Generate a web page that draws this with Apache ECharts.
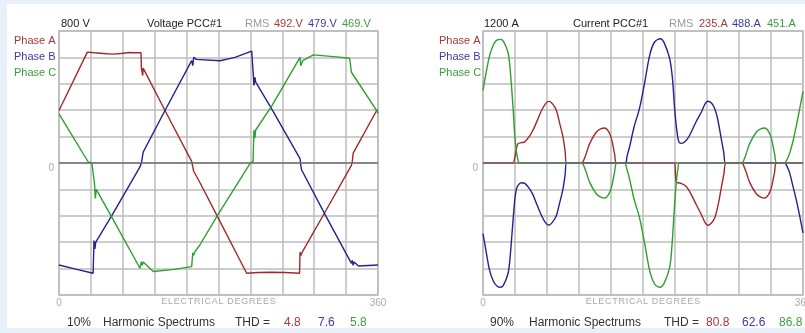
<!DOCTYPE html>
<html><head><meta charset="utf-8">
<script src="https://cdn.jsdelivr.net/npm/echarts@6/dist/echarts.min.js"></script>
<style>
html,body{margin:0;padding:0;background:#e8f0f9;}
#wrap{position:relative;width:805px;height:333px;background:#e8f0f9;overflow:hidden}
#panel{position:absolute;left:7px;top:4px;width:798px;height:324px;background:#fff}
#chart{position:absolute;left:0;top:0;width:805px;height:333px}
</style></head><body>
<div id="wrap"><div id="panel"></div><div id="chart"></div></div>
<script>
// ---------- data (degrees, value) ----------
const phases = ['Phase A', 'Phase B', 'Phase C'];
const xTickLabels = ['0', '360'];
const yTickLabels = ['0'];

const voltA = [[0,318],[32,672],[40,668],[50,664],[60,660],[70,664],[80,670],[82,676],[83,668],[92.5,668],[93,575],[94,545],[94.5,530],[95,575],[119.6,318],[149.7,10],[151,5],[152,-50],[159,-118],[178,-316],[211.8,-668],[225,-664],[240,-662],[255,-664],[271.5,-668],[272,-540],[273,-560],[274,-545],[300,-300],[330,-14],[331,10],[332,60],[358.5,318],[360,322]];
const voltB = [[0,-618],[20,-645],[38.5,-668],[39.5,-470],[40.5,-520],[41.5,-480],[59.4,-320],[91.4,-24],[93,0],[95,66],[119.6,318],[149.7,620],[151,590],[152,640],[155,628],[181.7,620],[198.6,640],[217.5,678],[219.5,685],[220,470],[221,520],[222,490],[240,328],[272,26],[273,-20],[274,-44],[300,-310],[330,-608],[331,-590],[332,-620],[333,-600],[338,-624],[360,-618]];
const voltC = [[0,298],[33,6],[37,0],[38,10],[39,-10],[40,-120],[41,-215],[42,-160],[43,-170],[59.4,-326],[91.4,-638],[93,-598],[94,-620],[95,-600],[106.4,-658],[130,-645],[149.7,-628],[151,-545],[152,-560],[153,-540],[159,-497],[178,-325],[215.5,-4],[217,0],[219,10],[220,200],[221,150],[222,200],[240,345],[272,640],[272.8,590],[273.5,600],[275,620],[287,655],[310,645],[328,635],[329.5,640],[330,550],[331,540],[332,555],[358.5,318],[360,298]];

const currA = [[0,0],[33.7,0],[35.5,40],[37.5,130],[39.4,176],[43,185],[47,192],[52,240],[56,295],[61,385],[65.7,475],[70,535],[74,560],[78,540],[82.5,480],[86,370],[90,236],[92.5,100],[94,0],[110.7,0],[115,60],[120,176],[127.6,282],[133,312],[137,318],[141,290],[144.5,222],[148,85],[150.5,0],[215.6,0],[216.5,-100],[217.5,-173],[219.4,-180],[223,-185],[228,-210],[232.5,-260],[240,-380],[245.7,-470],[250,-545],[253,-566],[257,-545],[260.7,-500],[264,-400],[268,-230],[271,-100],[273.8,0],[290.7,0],[295,-60],[300,-176],[307.6,-282],[313,-312],[317,-318],[321,-290],[324.5,-222],[328,-85],[330.5,0],[360,0]];
const currB = [[0,-642],[3,-780],[7.5,-979],[12,-1080],[16,-1120],[19.6,-1130],[23,-1110],[28,-1009],[30,-900],[32,-706],[34,-500],[35.7,-339],[37.5,-240],[39.4,-203],[43,-180],[47,-185],[52,-230],[56,-285],[61,-385],[65.7,-475],[70,-540],[74,-566],[78,-540],[82.5,-480],[86,-370],[90,-236],[92.5,-100],[94,0],[160,0],[162,60],[165,150],[170,330],[176,494],[182,736],[187.5,979],[193,1100],[199.6,1130],[204,1090],[210,949],[213,780],[215.6,494],[217.5,330],[219.4,222],[221,185],[223,178],[228,200],[232.5,252],[240,380],[245.7,464],[250,540],[253,561],[257,545],[260.7,494],[264,400],[268,222],[271,90],[273,0],[339,0],[342,-30],[345,-90],[348.8,-215],[352,-320],[356,-470],[360,-635]];
const currC = [[0,661],[3,800],[7.5,979],[12,1080],[16,1120],[19.6,1124],[23,1105],[28,1009],[30,900],[32,706],[34,480],[35.7,252],[37.5,110],[39.4,25],[41,0],[110.7,0],[115,-60],[120,-176],[127.6,-282],[133,-312],[137,-318],[141,-290],[144.5,-222],[148,-85],[150.5,0],[159,0],[162,-60],[165,-150],[170,-330],[176,-494],[182,-736],[187.5,-979],[193,-1100],[199,-1130],[204,-1090],[210,-949],[212.5,-760],[215,-450],[217.5,-175],[219.4,-45],[221,0],[290.7,0],[295,60],[300,176],[307.6,282],[313,312],[317,318],[321,290],[324.5,222],[328,85],[330.5,0],[339,0],[342,30],[345,90],[348.8,200],[352,320],[356,480],[360,650]];

// ---------- styling ----------
const FONT = '"Liberation Sans", Arial, sans-serif';
const lineColors = ['#a02a2a', '#23238f', '#2f9f2f'];
const textColors = ['#a83838', '#3a3aa0', '#3c9f3c'];
const gridColor = '#bcbcbc';

function xAxis(gi) {
  return {
    type: 'value', gridIndex: gi, min: 0, max: 360, interval: 36,
    axisLine: { show: false }, axisTick: { show: false },
    splitLine: { show: true, lineStyle: { color: gridColor, width: 1.5 } },
    axisLabel: { color: '#aaaaaa', fontSize: 10, fontFamily: FONT, margin: 3,
      formatter: v => (v === 0 ? xTickLabels[0] : (v === 360 ? xTickLabels[1] : '')) },
    name: 'E\u200AL\u200AE\u200AC\u200AT\u200AR\u200AI\u200AC\u200AA\u200AL\u2009\u2009D\u200AE\u200AG\u200AR\u200AE\u200AE\u200AS',
    nameLocation: 'middle', nameGap: 2, nameMoveOverlap: false,
    nameTextStyle: { color: '#a8a8a8', fontSize: 9, fontFamily: FONT, verticalAlign: 'top' }
  };
}
function yAxis(gi, lim) {
  return {
    type: 'value', gridIndex: gi, min: -lim, max: lim, interval: lim / 5,
    axisLine: { show: false }, axisTick: { show: false },
    splitLine: { show: true, lineStyle: { color: gridColor, width: 1.5 } },
    axisLabel: { color: '#aaaaaa', fontSize: 10, fontFamily: FONT, margin: 5, verticalAlign: 'top',
      formatter: v => (v === 0 ? yTickLabels[0] : '') }
  };
}
function zeroSeries(gi) {
  return { type: 'line', name: 'zero' + gi, xAxisIndex: gi, yAxisIndex: gi, data: [], z: 1,
    markLine: { silent: true, symbol: 'none', label: { show: false }, animation: false,
      lineStyle: { color: '#707070', width: 1.5, type: 'solid' }, data: [{ yAxis: 0 }] } };
}
function phaseSeries(gi, idx, data, smooth) {
  return { type: 'line', name: phases[idx], xAxisIndex: gi, yAxisIndex: gi, data: data,
    showSymbol: false, symbol: 'none', smooth: smooth, z: 3,
    lineStyle: { color: lineColors[idx], width: 1.4 }, itemStyle: { color: lineColors[idx] } };
}
function legend(left) {
  return { left: left, top: 34, orient: 'vertical', padding: 0, icon: 'none',
    itemWidth: 0, itemHeight: 14, itemGap: 3.6, selectedMode: false,
    textStyle: { fontSize: 11, fontFamily: FONT },
    data: phases.map((p, i) => ({ name: p, textStyle: { color: textColors[i] } })) };
}
function txt(x, y, s, color, size) {
  return { type: 'text', x: x, y: y, silent: true,
    style: { text: s, fill: color, font: (size || 11) + 'px ' + FONT, align: 'left', verticalAlign: 'middle' } };
}

const option = {
  animation: false,
  textStyle: { fontFamily: FONT },
  grid: [
    { left: 59, top: 31, width: 319, height: 264, show: true, borderColor: gridColor, borderWidth: 1.5, outerBoundsMode: 'none', containLabel: false },
    { left: 483, top: 31, width: 320, height: 264, show: true, borderColor: gridColor, borderWidth: 1.5, outerBoundsMode: 'none', containLabel: false }
  ],
  xAxis: [xAxis(0), xAxis(1)],
  yAxis: [yAxis(0, 800), yAxis(1, 1200)],
  legend: [legend(9), legend(434)],
  series: [
    zeroSeries(0),
    phaseSeries(0, 0, voltA, false), phaseSeries(0, 1, voltB, false), phaseSeries(0, 2, voltC, false),
    zeroSeries(1),
    phaseSeries(1, 0, currA, 0.3), phaseSeries(1, 1, currB, 0.3), phaseSeries(1, 2, currC, 0.3)
  ],
  graphic: [
    txt(61, 23.5, '800 V', '#222'),
    txt(147, 23.5, 'Voltage PCC#1', '#222'),
    txt(245, 23.5, 'RMS', '#9a9a9a'),
    txt(274, 23.5, '492.V', textColors[0]),
    txt(308, 23.5, '479.V', textColors[1]),
    txt(342, 23.5, '469.V', textColors[2]),
    txt(484, 23.5, '1200 A', '#222'),
    txt(573, 23.5, 'Current PCC#1', '#222'),
    txt(669, 23.5, 'RMS', '#9a9a9a'),
    txt(699, 23.5, '235.A', textColors[0]),
    txt(732, 23.5, '488.A', textColors[1]),
    txt(767, 23.5, '451.A', textColors[2]),
    txt(67, 323, '10%', '#333', 12),
    txt(103, 323, 'Harmonic Spectrums', '#333', 12),
    txt(235, 323, 'THD =', '#333', 12),
    txt(284, 323, '4.8', textColors[0], 12),
    txt(318, 323, '7.6', textColors[1], 12),
    txt(350, 323, '5.8', textColors[2], 12),
    txt(490, 323, '90%', '#333', 12),
    txt(529, 323, 'Harmonic Spectrums', '#333', 12),
    txt(664, 323, 'THD =', '#333', 12),
    txt(706, 323, '80.8', textColors[0], 12),
    txt(742, 323, '62.6', textColors[1], 12),
    txt(779, 323, '86.8', textColors[2], 12)
  ]
};
const chart = echarts.init(document.getElementById('chart'), null, { renderer: 'canvas' });
chart.setOption(option);
</script></body></html>
